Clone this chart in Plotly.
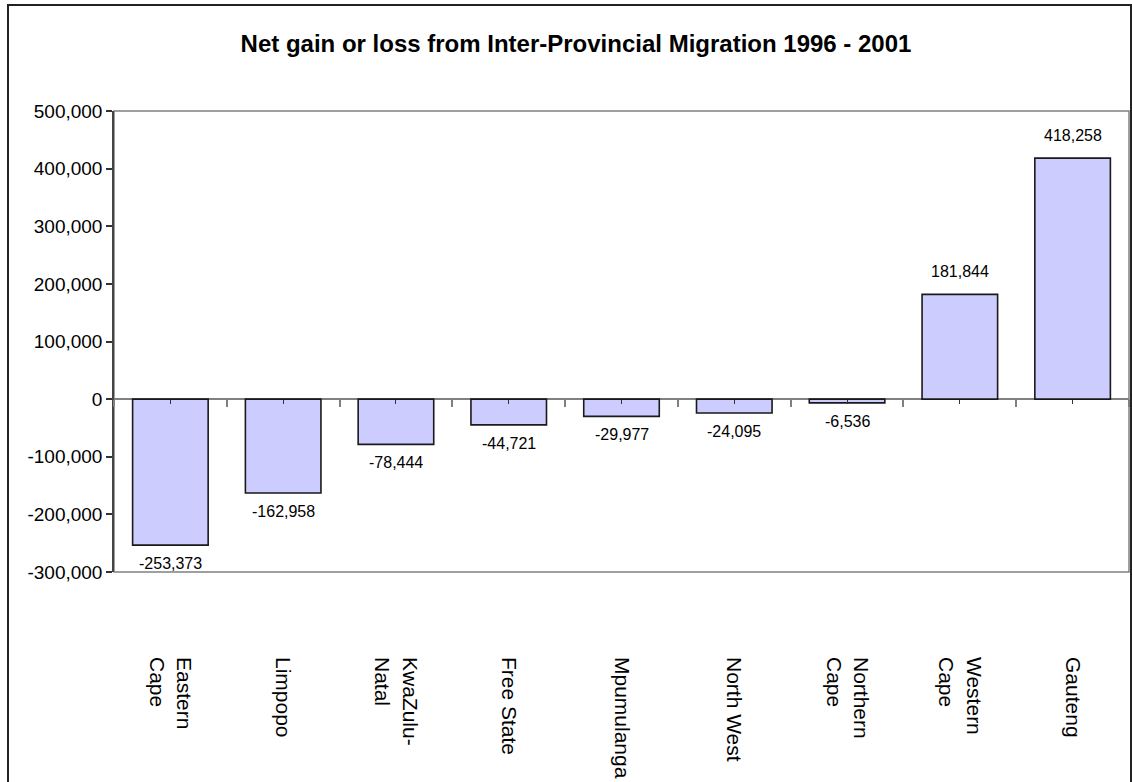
import plotly.graph_objects as go

categories = ["Eastern<br>Cape", "Limpopo", "KwaZulu-<br>Natal", "Free State", "Mpumulanga",
              "North West", "Northern<br>Cape", "Western<br>Cape", "Gauteng"]
net_migration = [-253373, -162958, -78444, -44721, -29977, -24095, -6536, 181844, 418258]
y_min, y_max, y_step = -300000, 500000, 100000
y_ticks = list(range(y_min, y_max + 1, y_step))
y_tick_labels = [f"{v:,}" for v in y_ticks]

FONT = "Arial, 'Liberation Sans', sans-serif"
x_pos = list(range(len(categories)))
boundaries = [i - 0.5 for i in range(len(categories) + 1)]
x_range = [-0.5, len(categories) - 0.5]

fig = go.Figure()
fig.add_trace(go.Bar(
    x=x_pos, y=net_migration, width=0.67,
    marker=dict(color="#CCCCFF", line=dict(color="#1a1a1a", width=1.6)),
    showlegend=False, hoverinfo="skip",
))
# helper empty traces so the overlay axes (category ticks on the zero line) are drawn
fig.add_trace(go.Scatter(x=[None], y=[None], xaxis="x2", yaxis="y", showlegend=False, hoverinfo="skip"))
fig.add_trace(go.Scatter(x=[None], y=[None], xaxis="x3", yaxis="y", showlegend=False, hoverinfo="skip"))

for xi, v in zip(x_pos, net_migration):
    fig.add_annotation(
        x=xi, y=v, text=f"{v:,}", showarrow=False,
        yanchor="bottom" if v >= 0 else "top",
        yshift=12 if v >= 0 else -8,
        font=dict(family=FONT, size=16, color="#000000"),
    )

zero_pos = (0 - y_min) / (y_max - y_min)

fig.update_layout(
    width=1132, height=782,
    margin=dict(l=114, r=3, t=111, b=206),
    paper_bgcolor="white", plot_bgcolor="white",
    font=dict(family=FONT, color="#000000"),
    title=dict(
        text="<b>Net gain or loss from Inter-Provincial Migration 1996 - 2001</b>",
        x=576 / 1132, xanchor="center", xref="container",
        y=1 - 44 / 782, yanchor="middle", yref="container",
        font=dict(family=FONT, size=24, color="#000000"),
    ),
    xaxis=dict(
        range=x_range, tickmode="array", tickvals=x_pos, ticktext=categories,
        tickangle=90, ticks="", showline=False, showgrid=False, zeroline=False,
        tickfont=dict(family=FONT, size=21, color="#000000"),
        ticklabelstandoff=84,
    ),
    xaxis2=dict(
        overlaying="x", anchor="free", position=zero_pos, range=x_range,
        tickmode="array", tickvals=boundaries, ticks="outside", ticklen=7,
        tickcolor="#808080", tickwidth=1.5, showticklabels=False,
        showline=False, showgrid=False, zeroline=False,
    ),
    xaxis3=dict(
        overlaying="x", anchor="free", position=zero_pos, range=x_range,
        tickmode="array", tickvals=x_pos, ticks="outside", ticklen=4,
        tickcolor="#333333", tickwidth=1, showticklabels=False,
        showline=False, showgrid=False, zeroline=False,
    ),
    yaxis=dict(
        range=[y_min, y_max], tickmode="array", tickvals=y_ticks, ticktext=y_tick_labels,
        ticks="outside", ticklen=6, tickcolor="#333333", tickwidth=1.5,
        showline=True, linecolor="#444444", linewidth=1.5,
        showgrid=False, zeroline=True, zerolinecolor="#808080", zerolinewidth=1.5,
        tickfont=dict(family=FONT, size=19, color="#000000"),
    ),
    shapes=[
        # plot area border
        dict(type="rect", xref="paper", yref="paper", x0=0, x1=1, y0=0, y1=1,
             line=dict(color="#808080", width=1.5), layer="below"),
        # outer chart frame
        dict(type="rect", xref="paper", yref="paper",
             x0=(8 - 114) / 1015, x1=(1131 - 114) / 1015,
             y0=(576 - 800) / 465, y1=(576 - 4) / 465,
             line=dict(color="#222222", width=2), layer="above"),
    ],
)

fig.write_html("out.html")
